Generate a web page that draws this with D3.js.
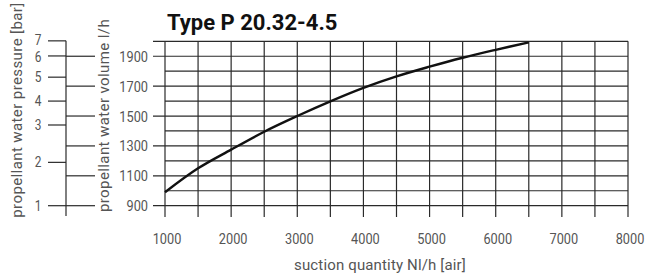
<!DOCTYPE html>
<html>
<head>
<meta charset="utf-8">
<script src="https://cdn.jsdelivr.net/npm/d3@7"></script>
<style>
body { margin: 0; background: #fff; }
text { fill: #555; font-family: Roboto, sans-serif; }
</style>
</head>
<body>
<svg id="chart"></svg>
<script>
var w = 659, h = 279;

// curve
var air = [1000, 1500, 2000, 2500, 3000, 3500, 4000, 4500, 5000, 5500, 6000, 6500];
var volume = [990, 1150, 1275, 1395, 1500, 1598, 1688, 1765, 1830, 1890, 1943, 1993];

var xTicks = [1000, 2000, 3000, 4000, 5000, 6000, 7000, 8000];
var xGrid = d3.range(1000, 8001, 500);
var yGrid = d3.range(900, 2001, 100);
var yTicks = [900, 1100, 1300, 1500, 1700, 1900];
var pressure = [1, 2, 3, 4, 5, 6, 7];
var pressureVol = [900, 1190, 1440, 1600, 1760, 1902, 2003]; // where each bar value sits on the volume scale

var line_col = "#2a2a2a";
var digit_sx = 0.85;

var svg = d3.select("#chart").attr("width", w).attr("height", h);

var x = d3.scaleLinear().domain([1000, 8000]).range([165, 628]);
var y = d3.scaleLinear().domain([900, 2000]).range([205.7, 41.3]);

// title
svg.append("text").attr("x", 167).attr("y", 30)
	.text("Type P 20.32-4.5")
	.style("font-weight", "bold")
	.style("font-size", "22px").style("fill", "#111");

// grid
var grid = svg.append("g").attr("stroke", line_col).attr("stroke-width", 1.2);
grid.selectAll(".vg").data(xGrid).enter().append("line")
	.attr("x1", d => x(d)).attr("x2", d => x(d))
	.attr("y1", y(2000)).attr("y2", 217);
grid.selectAll(".hg").data(yGrid).enter().append("line")
	.attr("x1", d => (d % 200 == 100 || d == 2000) ? 153 : x(1000)).attr("x2", x(8000))
	.attr("y1", d => y(d)).attr("y2", d => y(d));

// volume ticks out left
grid.selectAll(".vt").data(yTicks).enter().append("line")
	.attr("x1", 66).attr("x2", 95)
	.attr("y1", d => y(d)).attr("y2", d => y(d));

svg.selectAll(".vl").data(yTicks).enter().append("text")
	.attr("transform", d => "translate(148," + (y(d) + 5.5) + ") scale(" + digit_sx + ",1)")
	.attr("text-anchor", "end").style("font-size", "15px")
	.text(d => d);

// pressure axis
grid.append("line").attr("x1", 66).attr("x2", 66).attr("y1", y(pressureVol[6])).attr("y2", 216);
grid.selectAll(".pt").data(pressure).enter().append("line")
	.attr("x1", 48).attr("x2", 66)
	.attr("y1", (d, i) => y(pressureVol[i])).attr("y2", (d, i) => y(pressureVol[i]));
svg.selectAll(".pl").data(pressure).enter().append("text")
	.attr("transform", (d, i) => "translate(38," + (y(pressureVol[i]) + 5 + (d == 7 ? -1 : d == 6 ? 1.5 : 0)) + ") scale(" + digit_sx + ",1)")
	.attr("text-anchor", "middle").style("font-size", "14px")
	.text(d => d);

// x labels
svg.selectAll(".xl").data(xTicks).enter().append("text")
	.attr("transform", d => "translate(" + (x(d) + 2) + ",244) scale(" + digit_sx + ",1)")
	.attr("text-anchor", "middle").style("font-size", "15px")
	.text(d => d);

svg.append("text").attr("x", 380).attr("y", 270).attr("text-anchor", "middle")
	.style("font-size", "15px").style("letter-spacing", "0.15px")
	.text("suction quantity Nl/h [air]");

svg.append("text").attr("transform", "translate(22,110) rotate(-90)").attr("text-anchor", "middle")
	.style("font-size", "15px").style("letter-spacing", "0.4px")
	.text("propellant water pressure [bar]");

svg.append("text").attr("transform", "translate(109,115.5) rotate(-90)").attr("text-anchor", "middle")
	.style("font-size", "15px").style("letter-spacing", "0.4px")
	.text("propellant water volume l/h");

// curve
var curve = d3.line().x(d => x(d[0])).y(d => y(d[1])).curve(d3.curveCatmullRom);
svg.append("path").datum(d3.zip(air, volume))
	.attr("d", curve).attr("fill", "none")
	.attr("stroke", "#111").attr("stroke-width", 2.4);
</script>
</body>
</html>
